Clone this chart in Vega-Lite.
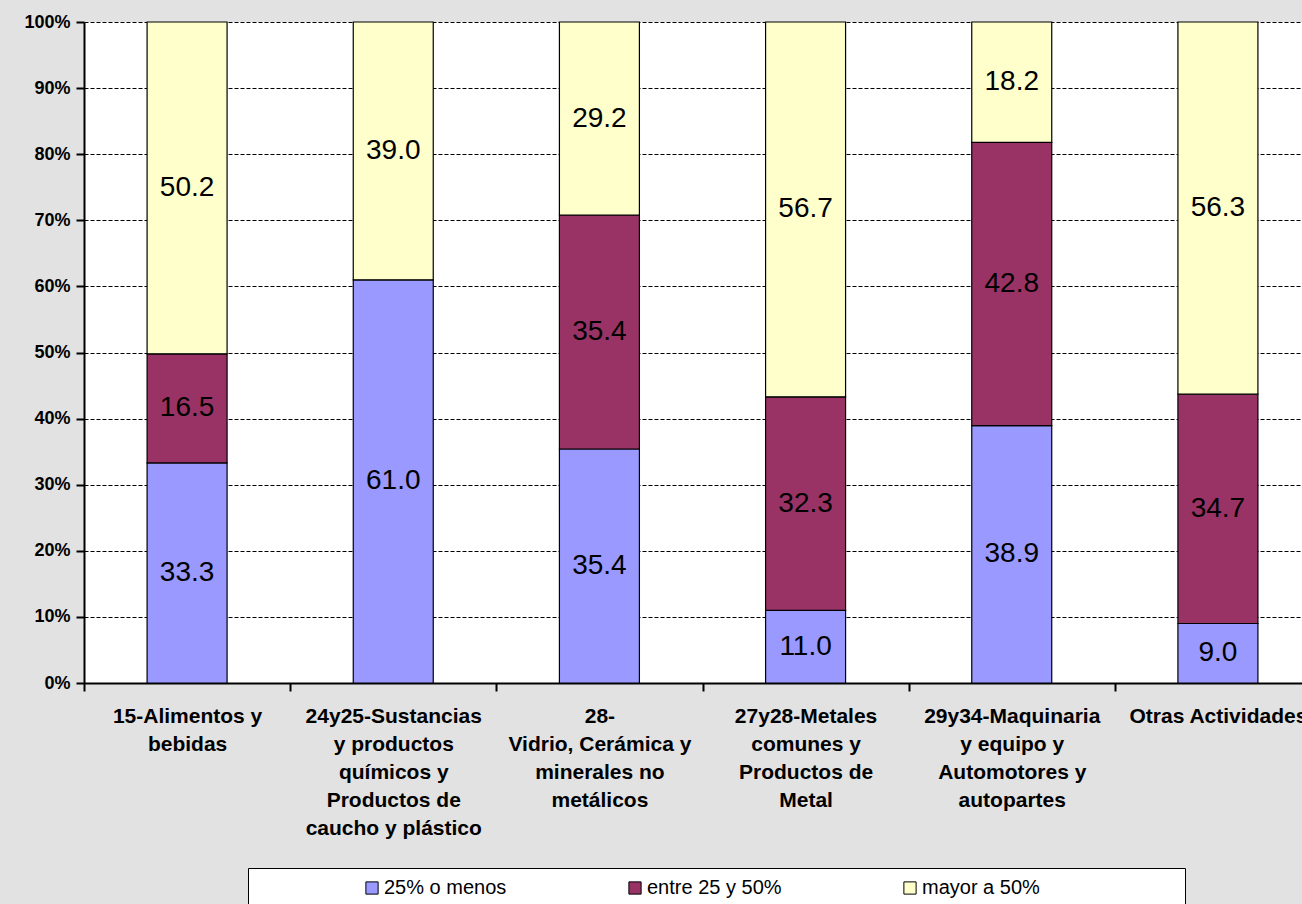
{
  "$schema": "https://vega.github.io/schema/vega-lite/v6.json",
  "width": 1218,
  "height": 661,
  "autosize": {"type": "none"},
  "padding": {"left": 84, "top": 22, "right": 0, "bottom": 221},
  "background": "#e2e2e2",
  "config": {
    "view": {"fill": "white", "stroke": null},
    "font": "Liberation Sans"
  },
  "data": {
    "values": [
      {"cat": "15-Alimentos y|bebidas", "serie": "25% o menos", "orden": 1, "valor": 33.3},
      {"cat": "15-Alimentos y|bebidas", "serie": "entre 25 y 50%", "orden": 2, "valor": 16.5},
      {"cat": "15-Alimentos y|bebidas", "serie": "mayor a 50%", "orden": 3, "valor": 50.2},
      {"cat": "24y25-Sustancias|y productos|químicos y|Productos de|caucho y plástico", "serie": "25% o menos", "orden": 1, "valor": 61.0},
      {"cat": "24y25-Sustancias|y productos|químicos y|Productos de|caucho y plástico", "serie": "mayor a 50%", "orden": 3, "valor": 39.0},
      {"cat": "28-|Vidrio, Cerámica y|minerales no|metálicos", "serie": "25% o menos", "orden": 1, "valor": 35.4},
      {"cat": "28-|Vidrio, Cerámica y|minerales no|metálicos", "serie": "entre 25 y 50%", "orden": 2, "valor": 35.4},
      {"cat": "28-|Vidrio, Cerámica y|minerales no|metálicos", "serie": "mayor a 50%", "orden": 3, "valor": 29.2},
      {"cat": "27y28-Metales|comunes y|Productos de|Metal", "serie": "25% o menos", "orden": 1, "valor": 11.0},
      {"cat": "27y28-Metales|comunes y|Productos de|Metal", "serie": "entre 25 y 50%", "orden": 2, "valor": 32.3},
      {"cat": "27y28-Metales|comunes y|Productos de|Metal", "serie": "mayor a 50%", "orden": 3, "valor": 56.7},
      {"cat": "29y34-Maquinaria|y equipo y|Automotores y|autopartes", "serie": "25% o menos", "orden": 1, "valor": 38.9},
      {"cat": "29y34-Maquinaria|y equipo y|Automotores y|autopartes", "serie": "entre 25 y 50%", "orden": 2, "valor": 42.8},
      {"cat": "29y34-Maquinaria|y equipo y|Automotores y|autopartes", "serie": "mayor a 50%", "orden": 3, "valor": 18.2},
      {"cat": "Otras Actividades", "serie": "25% o menos", "orden": 1, "valor": 9.0},
      {"cat": "Otras Actividades", "serie": "entre 25 y 50%", "orden": 2, "valor": 34.7},
      {"cat": "Otras Actividades", "serie": "mayor a 50%", "orden": 3, "valor": 56.3}
    ]
  },
  "encoding": {
    "x": {
      "field": "cat",
      "type": "nominal",
      "sort": null,
      "scale": {"range": [0, 1237], "paddingInner": 0.612, "paddingOuter": 0.306},
      "axis": {
        "title": null,
        "labelAngle": 0,
        "labelExpr": "split(datum.label, '|')",
        "labelFont": "Liberation Sans",
        "labelFontWeight": "bold",
        "labelFontSize": 21,
        "labelLineHeight": 28,
        "labelColor": "black",
        "labelPadding": 14,
        "labelBaseline": "top",
        "labelLimit": 300,
        "tickOffset": -103,
        "labelOffset": 103,
        "tickSize": 8,
        "tickColor": "black",
        "tickWidth": 2,
        "domainColor": "black",
        "domainWidth": 2,
        "grid": false
      }
    }
  },
  "layer": [
    {
      "mark": {"type": "bar", "stroke": "black", "strokeWidth": 1.2},
      "encoding": {
        "y": {
          "field": "valor",
          "type": "quantitative",
          "stack": "normalize",
          "scale": {"domain": [0, 1]},
          "axis": {
            "title": null,
            "format": "%",
            "values": [0, 0.1, 0.2, 0.3, 0.4, 0.5, 0.6, 0.7, 0.8, 0.9, 1],
            "labelFont": "Liberation Sans",
            "labelFontWeight": "bold",
            "labelFontSize": 18,
            "labelColor": "black",
            "labelPadding": 6,
            "tickSize": 8,
            "tickColor": "black",
            "tickWidth": 2,
            "domainColor": "black",
            "domainWidth": 2,
            "grid": true,
            "gridColor": "black",
            "gridDash": [4, 2],
            "gridWidth": 1,
            "gridOpacity": 1
          }
        },
        "order": {"field": "orden"},
        "color": {
          "field": "serie",
          "type": "nominal",
          "scale": {
            "domain": ["25% o menos", "entre 25 y 50%", "mayor a 50%"],
            "range": ["#9999FF", "#993366", "#FFFFCC"]
          },
          "legend": {
            "title": " ",
            "titleOrient": "right",
            "titlePadding": 135,
            "orient": "none",
            "legendX": 164,
            "legendY": 846,
            "direction": "horizontal",
            "symbolType": "square",
            "symbolSize": 150,
            "symbolStrokeColor": "black",
            "symbolStrokeWidth": 1,
            "symbolOffset": 104,
            "labelFont": "Liberation Sans",
            "labelFontSize": 20,
            "labelColor": "black",
            "labelOffset": 2,
            "columnPadding": 14,
            "padding": 10,
            "fillColor": "white",
            "strokeColor": "black"
          }
        }
      }
    },
    {
      "mark": {"type": "text", "fontSize": 28, "color": "black", "font": "Liberation Sans"},
      "encoding": {
        "y": {"field": "valor", "type": "quantitative", "stack": "normalize", "bandPosition": 0.5},
        "order": {"field": "orden"},
        "text": {"field": "valor", "type": "quantitative", "format": ".1f"}
      }
    }
  ]
}
